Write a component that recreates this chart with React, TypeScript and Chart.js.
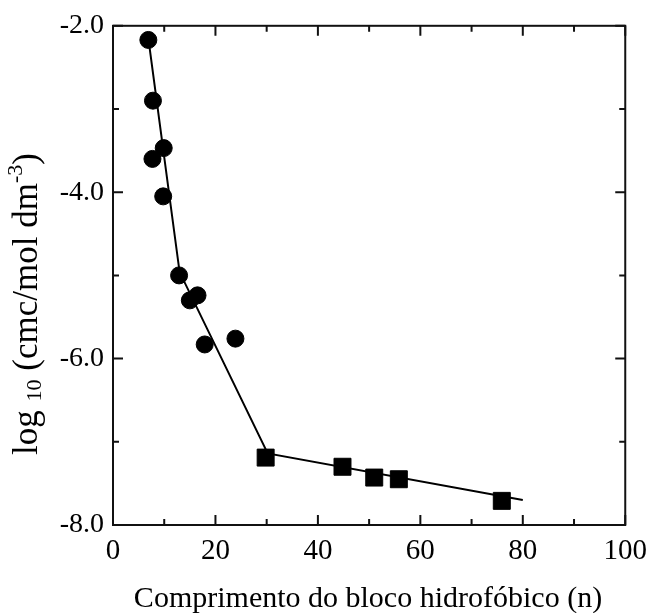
import React, { useEffect, useRef } from "react";
import { Chart, registerables } from "chart.js";

Chart.register(...registerables);

// Circles (short hydrophobic blocks)
const circleX = [6.9, 7.8, 9.9, 7.7, 9.8, 12.9, 15.0, 16.5, 17.9, 23.9];
const circleY = [-2.17, -2.9, -3.47, -3.6, -4.05, -5.0, -5.3, -5.24, -5.83, -5.76];
// Squares (long hydrophobic blocks)
const squareX = [29.8, 44.8, 51.0, 55.8, 75.9];
const squareY = [-7.19, -7.3, -7.43, -7.45, -7.71];
// Fitted line (piecewise)
const fitX = [6.9, 13.0, 30.2, 80];
const fitY = [-2.15, -4.96, -7.14, -7.7];

const xMajorTicks = [0, 20, 40, 60, 80, 100];
const xMinorTicks = [10, 30, 50, 70, 90];
const yMajorTicks = [-8, -6, -4, -2];
const yMinorTicks = [-7, -5, -3];

const xTitle = "Comprimento do bloco hidrofóbico (n)";
const yTitleParts = [
  { text: "log ", kind: "normal" },
  { text: "10", kind: "sub" },
  { text: " (cmc/mol dm", kind: "normal" },
  { text: "-3", kind: "sup" },
  { text: ")", kind: "normal" },
];

const FONT = "Liberation Serif";

const framePlugin = {
  id: "frame",
  afterDraw(chart: any) {
    const { ctx, chartArea } = chart;
    const xs = chart.scales.x;
    const ys = chart.scales.y;
    const { left, right, top, bottom } = chartArea;
    ctx.save();
    ctx.strokeStyle = "#111";
    ctx.lineWidth = 2;
    ctx.strokeRect(left, top, right - left, bottom - top);
    const major = 10;
    const minor = 6;
    ctx.beginPath();
    const xt = (v: number, len: number) => {
      const px = xs.getPixelForValue(v);
      ctx.moveTo(px, bottom);
      ctx.lineTo(px, bottom - len);
      ctx.moveTo(px, top);
      ctx.lineTo(px, top + len);
    };
    const yt = (v: number, len: number) => {
      const py = ys.getPixelForValue(v);
      ctx.moveTo(left, py);
      ctx.lineTo(left + len, py);
      ctx.moveTo(right, py);
      ctx.lineTo(right - len, py);
    };
    xMajorTicks.forEach((v) => xt(v, major));
    xMinorTicks.forEach((v) => xt(v, minor));
    yMajorTicks.forEach((v) => yt(v, major));
    yMinorTicks.forEach((v) => yt(v, minor));
    ctx.stroke();

    // X title
    ctx.fillStyle = "#000";
    ctx.font = `30px "${FONT}"`;
    ctx.textAlign = "center";
    ctx.textBaseline = "alphabetic";
    ctx.fillText(xTitle, 368, 607);

    // Y title with sub/superscript
    const main = 35;
    const small = 22;
    ctx.translate(37, 304);
    ctx.rotate(-Math.PI / 2);
    let total = 0;
    yTitleParts.forEach((p) => {
      ctx.font = `${p.kind === "normal" ? main : small}px "${FONT}"`;
      total += ctx.measureText(p.text).width;
    });
    let x = -total / 2;
    ctx.textAlign = "left";
    yTitleParts.forEach((p) => {
      ctx.font = `${p.kind === "normal" ? main : small}px "${FONT}"`;
      const dy = p.kind === "sub" ? 4 : p.kind === "sup" ? -15 : 0;
      ctx.fillText(p.text, x, dy);
      x += ctx.measureText(p.text).width;
    });
    ctx.restore();
  },
};

export default function App() {
  const ref = useRef<HTMLCanvasElement | null>(null);
  useEffect(() => {
    if (!ref.current) return;
    const chart = new Chart(ref.current, {
      type: "scatter",
      data: {
        datasets: [
          {
            type: "line",
            data: fitX.map((x, i) => ({ x, y: fitY[i] })),
            borderColor: "#000",
            borderWidth: 2,
            pointRadius: 0,
            fill: false,
            tension: 0,
          } as any,
          {
            data: circleX.map((x, i) => ({ x, y: circleY[i] })),
            pointStyle: "circle",
            pointRadius: 8.5,
            borderWidth: 1,
            backgroundColor: "#000",
            borderColor: "#000",
          },
          {
            data: squareX.map((x, i) => ({ x, y: squareY[i] })),
            pointStyle: "rect",
            pointRadius: 12,
            borderWidth: 1,
            backgroundColor: "#000",
            borderColor: "#000",
          },
        ],
      },
      options: {
        responsive: false,
        animation: false,
        devicePixelRatio: 1,
        layout: { padding: { top: 22, right: 29, left: 0, bottom: 0 } },
        plugins: { legend: { display: false }, tooltip: { enabled: false } },
        scales: {
          x: {
            type: "linear",
            min: 0,
            max: 100,
            ticks: {
              stepSize: 20,
              color: "#000",
              font: { family: FONT, size: 29 },
              padding: 9,
              maxRotation: 0,
            },
            grid: { display: false, drawTicks: false },
            border: { display: false },
            afterFit: (s: any) => {
              s.height = 88;
            },
          },
          y: {
            type: "linear",
            min: -8,
            max: -2,
            ticks: {
              stepSize: 2,
              color: "#000",
              font: { family: FONT, size: 28 },
              padding: 9,
              callback: (v: any) => Number(v).toFixed(1),
            },
            grid: { display: false, drawTicks: false },
            border: { display: false },
            afterFit: (s: any) => {
              s.width = 113;
            },
          },
        },
      },
      plugins: [framePlugin],
    });
    return () => chart.destroy();
  }, []);
  return (
    <div style={{ position: "absolute", left: 0, top: 0, width: 656, height: 613 }}>
      <canvas ref={ref} width={656} height={613} style={{ display: "block" }} />
    </div>
  );
}
